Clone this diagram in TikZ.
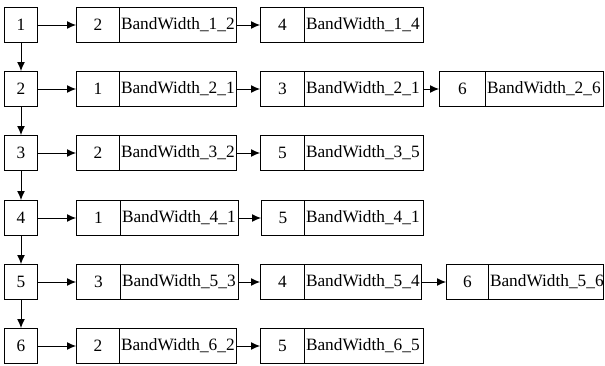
\documentclass[tikz,border=0pt]{standalone}
\usepackage{fontspec}
\setmainfont{Liberation Serif}
\usetikzlibrary{arrows.meta}
\tikzset{
  box/.style={draw, line width=1pt, minimum height=35pt, inner sep=0pt, anchor=west,
              font=\fontsize{17.3}{17.3}\selectfont},
  idbox/.style={box},
  bwbox/.style={box, inner xsep=1.5pt, align=left},
  arr/.style={line width=1pt, -{Latex[length=9pt,width=8pt]}}
}
\newcommand\elem[7]{%
  \pgfmathsetmacro\elwa{#3-#2}%
  \pgfmathsetmacro\elwb{#4-#3-3}%
  \node[idbox, minimum width=\elwa pt] (#1a) at (#2,#5) {#6};
  \node[bwbox, text width=\elwb pt] (#1b) at (#3,#5) {#7};
}
\begin{document}
\begin{tikzpicture}[x=1pt,y=-1pt]
\useasboundingbox (0,0) rectangle (605,365);
% head nodes
\foreach \i/\y in {1/25,2/89,3/153,4/218,5/282,6/346}{
  \node[box, minimum width=33pt] (h\i) at (4,\y) {\i};
}
% row 1
\elem{r1e1}{76}{119}{236}{25}{2}{BandWidth\_1\_2}
\elem{r1e2}{260}{304}{423}{25}{4}{BandWidth\_1\_4}
% row 2
\elem{r2e1}{76}{119}{236}{89}{1}{BandWidth\_2\_1}
\elem{r2e2}{260}{304}{423}{89}{3}{BandWidth\_2\_1}
\elem{r2e3}{439}{485}{603}{89}{6}{BandWidth\_2\_6}
% row 3
\elem{r3e1}{76}{119}{236}{153}{2}{BandWidth\_3\_2}
\elem{r3e2}{260}{304}{423}{153}{5}{BandWidth\_3\_5}
% row 4
\elem{r4e1}{76}{120}{238}{218}{1}{BandWidth\_4\_1}
\elem{r4e2}{261}{304}{423}{218}{5}{BandWidth\_4\_1}
% row 5
\elem{r5e1}{76}{120}{238}{282}{3}{BandWidth\_5\_3}
\elem{r5e2}{260}{304}{421}{282}{4}{BandWidth\_5\_4}
\elem{r5e3}{446}{488}{603}{282}{6}{BandWidth\_5\_6}
% row 6
\elem{r6e1}{76}{119}{236}{346}{2}{BandWidth\_6\_2}
\elem{r6e2}{260}{304}{423}{346}{5}{BandWidth\_6\_5}
% vertical arrows
\foreach \a/\b in {1/2,2/3,3/4,4/5,5/6}{
  \draw[arr] (h\a) -- (h\b);
}
% horizontal arrows
\foreach \i in {1,...,6}{
  \draw[arr] (h\i) -- (r\i e1a);
  \draw[arr] (r\i e1b) -- (r\i e2a);
}
\draw[arr] (r2e2b) -- (r2e3a);
\draw[arr] (r5e2b) -- (r5e3a);
\end{tikzpicture}
\end{document}
